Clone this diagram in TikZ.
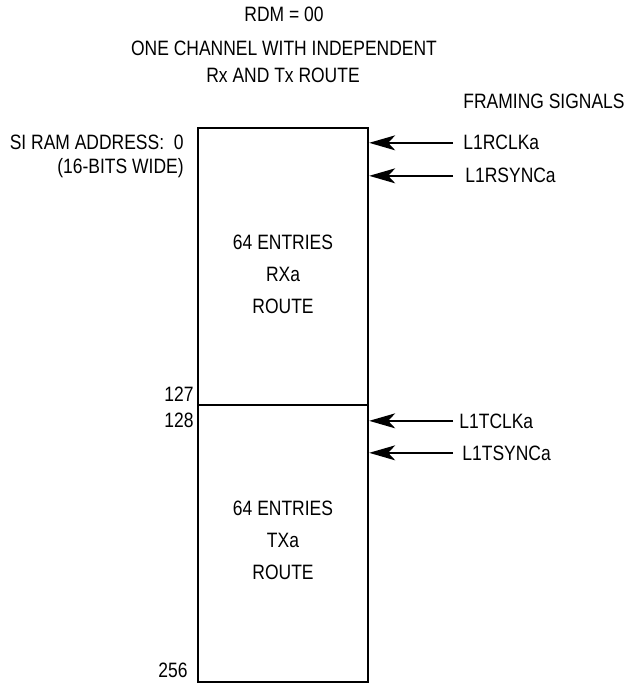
\documentclass[tikz,border=0pt]{standalone}
\usepackage{fontspec}
\setmainfont[FakeStretch=0.84]{Liberation Sans}
\usetikzlibrary{arrows.meta}

\tikzset{
  lbl/.style={inner sep=0pt, font=\fontsize{10.4}{12}\selectfont},
  blk/.style={draw, line width=1.2pt, minimum width=85pt, minimum height=138.5pt, inner sep=0pt},
  blktext/.style={lbl, align=center, font=\fontsize{10.4}{16}\selectfont},
  sig/.style={line width=0.7pt, -{Stealth[length=13pt, width=7.5pt, inset=3.5pt]}}
}

\begin{document}
\begin{tikzpicture}[x=0.5pt,y=-0.5pt]
  \useasboundingbox (0,0) rectangle (624,684);

  % heading
  \node[lbl, anchor=base] (rdm) at (284,22) {RDM = 00};
  \node[lbl, anchor=base] (title) at (284,56) {ONE CHANNEL WITH INDEPENDENT};
  \node[lbl, anchor=base] (subtitle) at (283,83) {Rx AND Tx ROUTE};

  % SI RAM blocks
  \node[blk] (rxblk) at (283,266.5) {};
  \node[blk] (txblk) at (283,543.5) {};
  \node[blktext] (rxtext) at (283,274) {64 ENTRIES\\RXa\\ROUTE};
  \node[blktext] (txtext) at (283,540) {64 ENTRIES\\TXa\\ROUTE};

  % addresses
  \node[lbl, anchor=base east] (addr) at (184,150) {SI RAM ADDRESS:\ \ 0};
  \node[lbl, anchor=base east] (width) at (184,174) {(16-BITS WIDE)};
  \node[lbl, anchor=base east] (a127) at (194,401) {127};
  \node[lbl, anchor=base east] (a128) at (194,427) {128};
  \node[lbl, anchor=base east] (a256) at (188,677) {256};

  % framing signals
  \node[lbl, anchor=base west] (framing) at (463,109) {FRAMING SIGNALS};
  \node[lbl, anchor=base west] (rclk) at (463,150) {L1RCLKa};
  \node[lbl, anchor=base west] (rsync) at (465,183) {L1RSYNCa};
  \node[lbl, anchor=base west] (tclk) at (459,428) {L1TCLKa};
  \node[lbl, anchor=base west] (tsync) at (462,460) {L1TSYNCa};

  \draw[sig] ([xshift=-5pt]rclk.west) -- (rclk.west -| rxblk.east);
  \draw[sig] ([xshift=-6pt]rsync.west) -- (rsync.west -| rxblk.east);
  \draw[sig] ([xshift=-3pt]tclk.west) -- (tclk.west -| txblk.east);
  \draw[sig] ([xshift=-4.5pt]tsync.west) -- (tsync.west -| txblk.east);
\end{tikzpicture}
\end{document}
